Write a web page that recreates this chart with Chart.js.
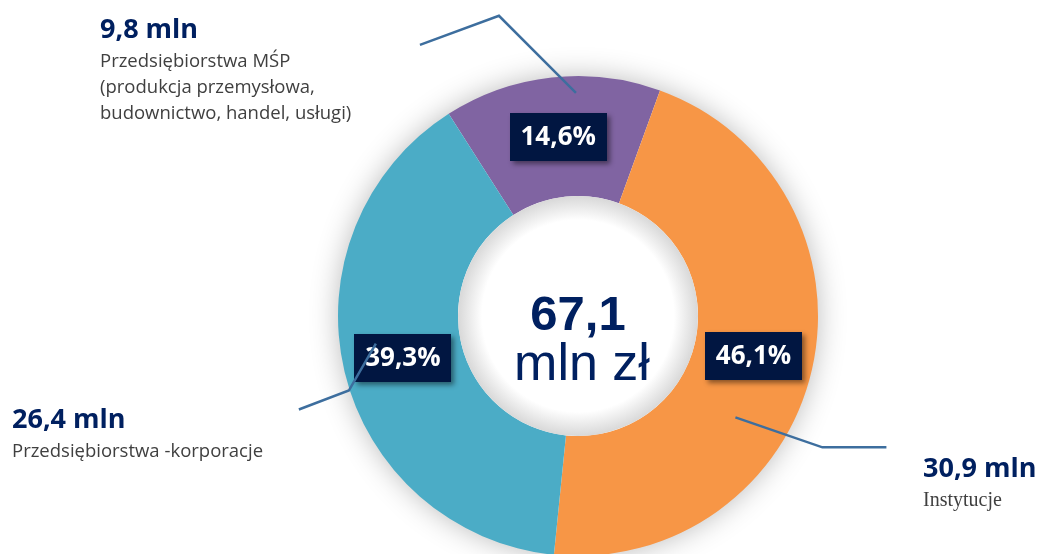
<!DOCTYPE html>
<html>
<head>
<meta charset="utf-8">
<script src="https://cdn.jsdelivr.net/npm/chart.js@4"></script>
<style>
  html, body { margin: 0; padding: 0; background: #fff; }
  #wrap { width: 1039px; height: 554px; }
</style>
</head>
<body>
<div id="wrap"><canvas id="myChart" width="1039" height="554"></canvas></div>
<script>
// dane
const categories = ["Przedsiębiorstwa MŚP", "Instytucje", "Przedsiębiorstwa -korporacje"];
const categoryLines = [
  ["Przedsiębiorstwa MŚP", "(produkcja przemysłowa,", "budownictwo, handel, usługi)"],
  ["Instytucje"],
  ["Przedsiębiorstwa -korporacje"]
];
const values = [9.8, 30.9, 26.4]; // mln zł
const unit = "mln";
const totalUnit = "mln zł";

const sliceColors = ["#8064A2", "#F79646", "#4BACC6"];
const navy = "#002060";

function fmt(n) {
  return n.toFixed(1).replace(".", ",");
}
var total = values.reduce((s, v) => s + v, 0);

// odnośniki: start na łuku (ułamek kąta, ułamek promienia), potem załamania (px)
var callouts = [
  { at: 0.61, r: 0.93, path: [[-77, -77], [-79, 29]], text: [100, 38], serif: false },
  { at: 0.62, r: 0.78, path: [[87, 30], [64, 0]], text: [923, 477], serif: true },
  { at: 0.54, r: 0.85, path: [[-27, 47], [-50, 19]], text: [12, 428], serif: false }
];

const shadowPlugin = {
  id: "ringShadow",
  beforeDatasetsDraw(chart) {
    var arc = chart.getDatasetMeta(0).data[0];
    var ctx = chart.ctx;
    ctx.save();
    ctx.shadowColor = "rgba(0,0,0,0.3)";
    ctx.shadowBlur = 30;
    ctx.fillStyle = "#ffffff";
    ctx.beginPath();
    ctx.arc(arc.x, arc.y, arc.outerRadius - 2, 0, Math.PI * 2);
    ctx.fill();
    ctx.restore();
  }
};

const labelPlugin = {
  id: "labels",
  afterDatasetsDraw(chart) {
    var ctx = chart.ctx;
    var arcs = chart.getDatasetMeta(0).data;
    var a0 = arcs[0];

    // środek
    var g = ctx.createRadialGradient(a0.x, a0.y, 0, a0.x, a0.y, a0.innerRadius);
    g.addColorStop(0, "#ffffff");
    g.addColorStop(0.8, "#ffffff");
    g.addColorStop(1, "#d8d8d8");
    ctx.save();
    ctx.fillStyle = g;
    ctx.beginPath();
    ctx.arc(a0.x, a0.y, a0.innerRadius, 0, Math.PI * 2);
    ctx.fill();

    ctx.fillStyle = navy;
    ctx.textAlign = "center";
    ctx.textBaseline = "alphabetic";
    ctx.font = "bold 49px 'Liberation Sans', Arial, sans-serif";
    ctx.fillText(fmt(total), a0.x, a0.y + 14);
    ctx.font = "52px 'Liberation Sans', Arial, sans-serif";
    ctx.fillText(totalUnit, a0.x + 4, a0.y + 64);
    ctx.restore();

    // procenty
    arcs.forEach((arc, i) => {
      var p = arc.tooltipPosition();
      var txt = fmt(values[i] / total * 100) + "%";
      ctx.save();
      ctx.font = "bold 26px 'Open Sans', sans-serif";
      var w = 97, h = 48;
      ctx.shadowColor = "rgba(0,0,0,0.45)";
      ctx.shadowBlur = 5;
      ctx.shadowOffsetX = 3;
      ctx.shadowOffsetY = 3;
      ctx.fillStyle = "#011641";
      ctx.fillRect(Math.round(p.x - w / 2), Math.round(p.y - h / 2), w, h);
      ctx.shadowColor = "transparent";
      ctx.fillStyle = "#ffffff";
      ctx.textAlign = "center";
      ctx.textBaseline = "middle";
      ctx.fillText(txt, p.x, p.y + 1);
      ctx.restore();
    });

    // linie i opisy
    arcs.forEach((arc, i) => {
      var c = callouts[i];
      var ang = arc.startAngle + (arc.endAngle - arc.startAngle) * c.at;
      var x = arc.x + Math.cos(ang) * arc.outerRadius * c.r;
      var y = arc.y + Math.sin(ang) * arc.outerRadius * c.r;
      ctx.save();
      ctx.strokeStyle = "#3D6E9E";
      ctx.lineWidth = 2.5;
      ctx.beginPath();
      ctx.moveTo(x, y);
      c.path.forEach((d) => {
        x += d[0];
        y += d[1];
        ctx.lineTo(x, y);
      });
      ctx.stroke();

      ctx.textAlign = "left";
      ctx.textBaseline = "alphabetic";
      ctx.fillStyle = navy;
      ctx.font = "bold 27px 'Open Sans', sans-serif";
      ctx.fillText(fmt(values[i]) + " " + unit, c.text[0], c.text[1]);
      ctx.fillStyle = "#404040";
      ctx.font = c.serif ? "20px 'Liberation Serif', serif" : "18.5px 'Open Sans', sans-serif";
      categoryLines[i].forEach((line, k) => {
        ctx.fillText(line, c.text[0], c.text[1] + 29 + k * 26);
      });
      ctx.restore();
    });
  }
};

new Chart("myChart", {
  type: "doughnut",
  data: {
    labels: categories,
    datasets: [
      {
        data: values,
        backgroundColor: sliceColors,
        borderWidth: 0,
        clip: false
      }
    ]
  },
  options: {
    responsive: false,
    animation: false,
    rotation: -32.6,
    cutout: "50%",
    radius: 240,
    layout: { padding: { left: 300, right: 183, top: 78, bottom: 0 } },
    plugins: {
      legend: { display: false },
      tooltip: { enabled: false }
    }
  },
  plugins: [shadowPlugin, labelPlugin]
});
</script>
</body>
</html>
